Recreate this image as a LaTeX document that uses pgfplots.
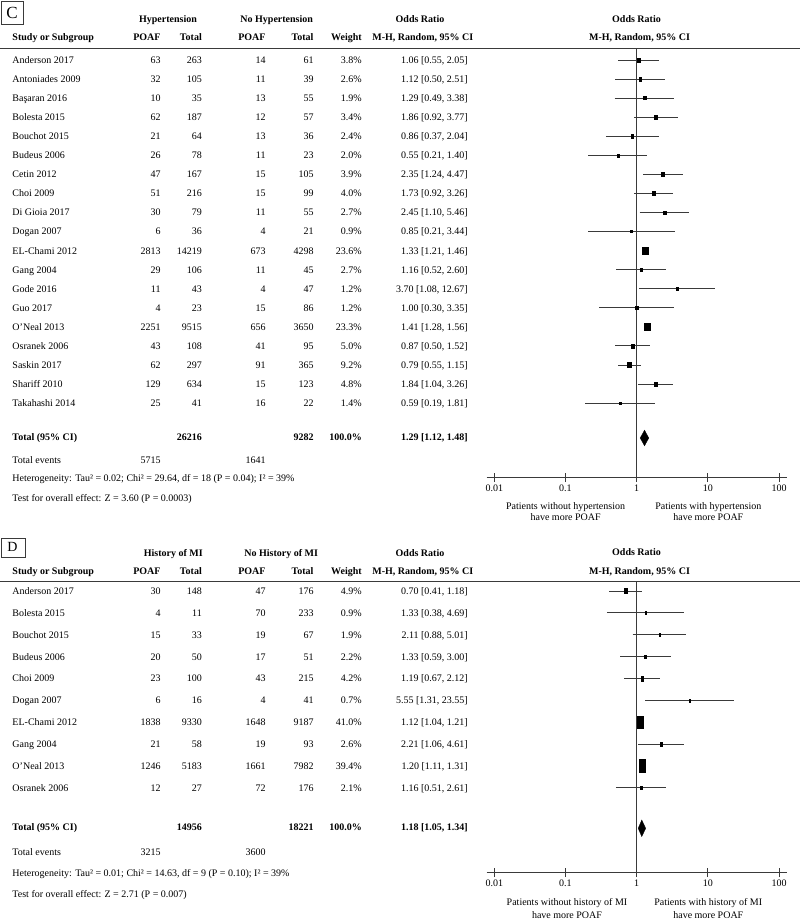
\documentclass[border=0pt]{standalone}
\usepackage{fontspec}
\setmainfont{Liberation Serif}
\usepackage{pgfplots}
\pgfplotsset{compat=1.18}
\usepackage{pgfplotstable}

\definecolor{ln}{HTML}{3A3A3A}
\newcommand\fs{\fontsize{10}{12}\selectfont}

% study rows: y, name, e1, n1, e2, n2, weight, OR text
\newcommand\trow[8]{%
 \node[t,anchor=west] at (12.3,-#1) {#2};
 \node[t,anchor=east] at (160.7,-#1) {#3};
 \node[t,anchor=east] at (202,-#1) {#4};
 \node[t,anchor=east] at (265.7,-#1) {#5};
 \node[t,anchor=east] at (313.7,-#1) {#6};
 \node[t,anchor=east] at (362,-#1) {#7};
 \node[t,anchor=east] at (468,-#1) {#8};}

\pgfplotstableread{
or   lo   hi    y      hw   hh
1.06 0.55 2.05  -60.0  1.50 1.80
1.12 0.50 2.51  -79.1  1.33 1.60
1.29 0.49 3.38  -98.1  1.21 1.45
1.86 0.92 3.77  -117.2 1.45 1.74
0.86 0.37 2.04  -136.2 1.30 1.56
0.55 0.21 1.40  -155.3 1.23 1.47
2.35 1.24 4.47  -174.4 1.52 1.82
1.73 0.92 3.26  -193.4 1.53 1.84
2.45 1.10 5.46  -212.5 1.35 1.62
0.85 0.21 3.44  -231.5 0.99 1.19
1.33 1.21 1.46  -250.6 3.00 3.60
1.16 0.52 2.60  -269.7 1.35 1.62
3.70 1.08 12.67 -288.7 1.06 1.27
1.00 0.30 3.35  -307.8 1.06 1.27
1.41 1.28 1.56  -326.8 2.99 3.58
0.87 0.50 1.52  -345.9 1.65 1.98
0.79 0.55 1.15  -365.0 2.06 2.47
1.84 1.04 3.26  -384.0 1.63 1.95
0.59 0.19 1.81  -403.1 1.11 1.33
}\estC

\pgfplotstableread{
or   lo   hi    y      hw   hh
0.70 0.41 1.18  -591.0 1.15 2.50
1.33 0.38 4.69  -612.9 0.74 1.50
2.11 0.88 5.01  -634.7 0.91 1.80
1.33 0.59 3.00  -656.6 0.95 1.90
1.19 0.67 2.12  -678.4 1.17 2.30
5.55 1.31 23.55 -700.3 0.70 1.40
1.12 1.04 1.21  -722.1 2.85 5.85
2.21 1.06 4.61  -744.0 1.00 2.00
1.20 1.11 1.31  -765.8 3.00 6.40
1.16 0.51 2.61  -787.7 0.94 1.90
}\estD

\begin{document}
\begin{tikzpicture}[x=1pt,y=1pt,
  t/.style={inner sep=0pt, text height=6.8pt, text depth=0pt, font=\fs},
  h/.style={t, font=\fs\bfseries}]
\useasboundingbox (0,0) rectangle (800,-919);

%================ PANEL C ================
\draw[ln, line width=0.8pt] (1,-1) rectangle (23,-24);
\node[inner sep=0pt, font=\fontsize{17}{17}\selectfont] at (12,-12.8) {C};

\node[h] at (168,-19) {Hypertension};
\node[h] at (276.7,-19) {No Hypertension};
\node[h] at (420,-19) {Odds Ratio};
\node[h] at (636.5,-19) {Odds Ratio};
\node[h,anchor=west] at (12.3,-37) {Study or Subgroup};
\node[h,anchor=east] at (160.7,-37) {POAF};
\node[h,anchor=east] at (202,-37) {Total};
\node[h,anchor=east] at (265.7,-37) {POAF};
\node[h,anchor=east] at (313.7,-37) {Total};
\node[h,anchor=east] at (362,-37) {Weight};
\node[h] at (422.8,-37) {M-H, Random, 95\% CI};
\node[h] at (639.5,-37) {M-H, Random, 95\% CI};
\draw[ln, line width=1.3pt] (0,-48.3) -- (800,-48.3);

\trow{60.0}{Anderson 2017}{63}{263}{14}{61}{3.8\%}{1.06 [0.55, 2.05]}
\trow{79.1}{Antoniades 2009}{32}{105}{11}{39}{2.6\%}{1.12 [0.50, 2.51]}
\trow{98.1}{Başaran 2016}{10}{35}{13}{55}{1.9\%}{1.29 [0.49, 3.38]}
\trow{117.2}{Bolesta 2015}{62}{187}{12}{57}{3.4\%}{1.86 [0.92, 3.77]}
\trow{136.2}{Bouchot 2015}{21}{64}{13}{36}{2.4\%}{0.86 [0.37, 2.04]}
\trow{155.3}{Budeus 2006}{26}{78}{11}{23}{2.0\%}{0.55 [0.21, 1.40]}
\trow{174.4}{Cetin 2012}{47}{167}{15}{105}{3.9\%}{2.35 [1.24, 4.47]}
\trow{193.4}{Choi 2009}{51}{216}{15}{99}{4.0\%}{1.73 [0.92, 3.26]}
\trow{212.5}{Di Gioia 2017}{30}{79}{11}{55}{2.7\%}{2.45 [1.10, 5.46]}
\trow{231.5}{Dogan 2007}{6}{36}{4}{21}{0.9\%}{0.85 [0.21, 3.44]}
\trow{250.6}{EL-Chami 2012}{2813}{14219}{673}{4298}{23.6\%}{1.33 [1.21, 1.46]}
\trow{269.7}{Gang 2004}{29}{106}{11}{45}{2.7\%}{1.16 [0.52, 2.60]}
\trow{288.7}{Gode 2016}{11}{43}{4}{47}{1.2\%}{3.70 [1.08, 12.67]}
\trow{307.8}{Guo 2017}{4}{23}{15}{86}{1.2\%}{1.00 [0.30, 3.35]}
\trow{326.8}{O'Neal 2013}{2251}{9515}{656}{3650}{23.3\%}{1.41 [1.28, 1.56]}
\trow{345.9}{Osranek 2006}{43}{108}{41}{95}{5.0\%}{0.87 [0.50, 1.52]}
\trow{365.0}{Saskin 2017}{62}{297}{91}{365}{9.2\%}{0.79 [0.55, 1.15]}
\trow{384.0}{Shariff 2010}{129}{634}{15}{123}{4.8\%}{1.84 [1.04, 3.26]}
\trow{403.1}{Takahashi 2014}{25}{41}{16}{22}{1.4\%}{0.59 [0.19, 1.81]}
\trow{437.3}{\textbf{Total (95\% CI)}}{}{\textbf{26216}}{}{\textbf{9282}}{\textbf{100.0\%}}{\textbf{1.29 [1.12, 1.48]}}
\trow{460.3}{Total events}{5715}{}{1641}{}{}{}
\node[t,anchor=west] at (12.3,-478.3) {Heterogeneity: Tau² = 0.02; Chi² = 29.64, df = 18 (P = 0.04); I² = 39\%};
\node[t,anchor=west] at (12.3,-498.3) {Test for overall effect: Z = 3.60 (P = 0.0003)};

\node[t] at (565.6,-506) {Patients without hypertension};
\node[t] at (565.6,-517.5) {have more POAF};
\node[t] at (708.3,-506) {Patients with hypertension};
\node[t] at (708.3,-517.5) {have more POAF};

\begin{axis}[at={(486.7pt,-477.7pt)}, anchor=south west,
  scale only axis, width=300pt, height=429.7pt,
  xmode=log, xmin=0.007818, xmax=128.3, ymin=-477.7, ymax=-48,
  axis x line=bottom, axis y line=none,
  x axis line style={draw=ln, line width=1.1pt, -},
  xtick={0.01,0.1,1,10,100}, xticklabels={0.01,0.1,1,10,100},
  xminorticks=false, tick align=center, major tick length=9pt,
  x tick style={draw=ln, line width=0.9pt},
  xticklabel style={font=\fs, inner sep=0pt, text height=6.8pt, text depth=0pt, yshift=-2pt},
  clip=false]
 \addplot[draw=ln, line width=0.9pt] coordinates {(1,-48) (1,-477.7)};
 \addplot[draw=ln, line width=0.9pt, unbounded coords=jump, mark=none] table {
 x y
 0.55 -60.0
 2.05 -60.0
 nan nan
 0.50 -79.1
 2.51 -79.1
 nan nan
 0.49 -98.1
 3.38 -98.1
 nan nan
 0.92 -117.2
 3.77 -117.2
 nan nan
 0.37 -136.2
 2.04 -136.2
 nan nan
 0.21 -155.3
 1.40 -155.3
 nan nan
 1.24 -174.4
 4.47 -174.4
 nan nan
 0.92 -193.4
 3.26 -193.4
 nan nan
 1.10 -212.5
 5.46 -212.5
 nan nan
 0.21 -231.5
 3.44 -231.5
 nan nan
 1.21 -250.6
 1.46 -250.6
 nan nan
 0.52 -269.7
 2.60 -269.7
 nan nan
 1.08 -288.7
 12.67 -288.7
 nan nan
 0.30 -307.8
 3.35 -307.8
 nan nan
 1.28 -326.8
 1.56 -326.8
 nan nan
 0.50 -345.9
 1.52 -345.9
 nan nan
 0.55 -365.0
 1.15 -365.0
 nan nan
 1.04 -384.0
 3.26 -384.0
 nan nan
 0.19 -403.1
 1.81 -403.1
 };
 \addplot[only marks, scatter, point meta=\thisrow{hw},
  mark=square*, mark size=1pt,
  scatter/use mapped color={draw=none, fill=black},
  visualization depends on={\thisrow{hw}\as\hw},
  visualization depends on={\thisrow{hh}\as\hh},
  scatter/@pre marker code/.append style={/tikz/xscale=\hw, /tikz/yscale=\hh}]
  table[x=or, y=y] {\estC};
 \addplot[fill=black, draw=black, line width=0.3pt] coordinates {(1.12,-438) (1.29,-430.2) (1.48,-438) (1.29,-445.8)} -- cycle;
\end{axis}

%================ PANEL D ================
\draw[ln, line width=0.8pt] (1,-538) rectangle (25.5,-557);
\node[inner sep=0pt, font=\fontsize{14}{14}\selectfont] at (12.5,-547.3) {D};

\node[h] at (173.3,-552.7) {History of MI};
\node[h] at (281.2,-552.7) {No History of MI};
\node[h] at (420,-552.7) {Odds Ratio};
\node[h] at (636.5,-552.5) {Odds Ratio};
\node[h,anchor=west] at (12.3,-570.7) {Study or Subgroup};
\node[h,anchor=east] at (160.7,-570.7) {POAF};
\node[h,anchor=east] at (202,-570.7) {Total};
\node[h,anchor=east] at (265.7,-570.7) {POAF};
\node[h,anchor=east] at (313.7,-570.7) {Total};
\node[h,anchor=east] at (362,-570.7) {Weight};
\node[h] at (422.8,-570.7) {M-H, Random, 95\% CI};
\node[h] at (639.5,-570.7) {M-H, Random, 95\% CI};
\draw[ln, line width=1.3pt] (0,-581.3) -- (800,-581.3);

\trow{591.0}{Anderson 2017}{30}{148}{47}{176}{4.9\%}{0.70 [0.41, 1.18]}
\trow{612.9}{Bolesta 2015}{4}{11}{70}{233}{0.9\%}{1.33 [0.38, 4.69]}
\trow{634.7}{Bouchot 2015}{15}{33}{19}{67}{1.9\%}{2.11 [0.88, 5.01]}
\trow{656.6}{Budeus 2006}{20}{50}{17}{51}{2.2\%}{1.33 [0.59, 3.00]}
\trow{678.4}{Choi 2009}{23}{100}{43}{215}{4.2\%}{1.19 [0.67, 2.12]}
\trow{700.3}{Dogan 2007}{6}{16}{4}{41}{0.7\%}{5.55 [1.31, 23.55]}
\trow{722.1}{EL-Chami 2012}{1838}{9330}{1648}{9187}{41.0\%}{1.12 [1.04, 1.21]}
\trow{744.0}{Gang 2004}{21}{58}{19}{93}{2.6\%}{2.21 [1.06, 4.61]}
\trow{765.8}{O'Neal 2013}{1246}{5183}{1661}{7982}{39.4\%}{1.20 [1.11, 1.31]}
\trow{787.7}{Osranek 2006}{12}{27}{72}{176}{2.1\%}{1.16 [0.51, 2.61]}
\trow{826.7}{\textbf{Total (95\% CI)}}{}{\textbf{14956}}{}{\textbf{18221}}{\textbf{100.0\%}}{\textbf{1.18 [1.05, 1.34]}}
\trow{852.3}{Total events}{3215}{}{3600}{}{}{}
\node[t,anchor=west] at (12.3,-873.3) {Heterogeneity: Tau² = 0.01; Chi² = 14.63, df = 9 (P = 0.10); I² = 39\%};
\node[t,anchor=west] at (12.3,-894.3) {Test for overall effect: Z = 2.71 (P = 0.007)};

\node[t] at (567,-902.3) {Patients without history of MI};
\node[t] at (567,-915) {have more POAF};
\node[t] at (708.3,-902.3) {Patients with history of MI};
\node[t] at (708.3,-915) {have more POAF};

\begin{axis}[at={(486.7pt,-872.7pt)}, anchor=south west,
  scale only axis, width=300pt, height=291.7pt,
  xmode=log, xmin=0.007818, xmax=128.3, ymin=-872.7, ymax=-581,
  axis x line=bottom, axis y line=none,
  x axis line style={draw=ln, line width=1.1pt, -},
  xtick={0.01,0.1,1,10,100}, xticklabels={0.01,0.1,1,10,100},
  xminorticks=false, tick align=center, major tick length=9pt,
  x tick style={draw=ln, line width=0.9pt},
  xticklabel style={font=\fs, inner sep=0pt, text height=6.8pt, text depth=0pt, yshift=-2pt},
  clip=false]
 \addplot[draw=ln, line width=0.9pt] coordinates {(1,-581) (1,-872.7)};
 \addplot[draw=ln, line width=0.9pt, unbounded coords=jump, mark=none] table {
 x y
 0.41 -591.0
 1.18 -591.0
 nan nan
 0.38 -612.9
 4.69 -612.9
 nan nan
 0.88 -634.7
 5.01 -634.7
 nan nan
 0.59 -656.6
 3.00 -656.6
 nan nan
 0.67 -678.4
 2.12 -678.4
 nan nan
 1.31 -700.3
 23.55 -700.3
 nan nan
 1.04 -722.1
 1.21 -722.1
 nan nan
 1.06 -744.0
 4.61 -744.0
 nan nan
 1.11 -765.8
 1.31 -765.8
 nan nan
 0.51 -787.7
 2.61 -787.7
 };
 \addplot[only marks, scatter, point meta=\thisrow{hw},
  mark=square*, mark size=1pt,
  scatter/use mapped color={draw=none, fill=black},
  visualization depends on={\thisrow{hw}\as\hw},
  visualization depends on={\thisrow{hh}\as\hh},
  scatter/@pre marker code/.append style={/tikz/xscale=\hw, /tikz/yscale=\hh}]
  table[x=or, y=y] {\estD};
 \addplot[fill=black, draw=black, line width=0.3pt] coordinates {(1.05,-828.3) (1.18,-820) (1.34,-828.3) (1.18,-836.6)} -- cycle;
\end{axis}
\end{tikzpicture}
\end{document}
